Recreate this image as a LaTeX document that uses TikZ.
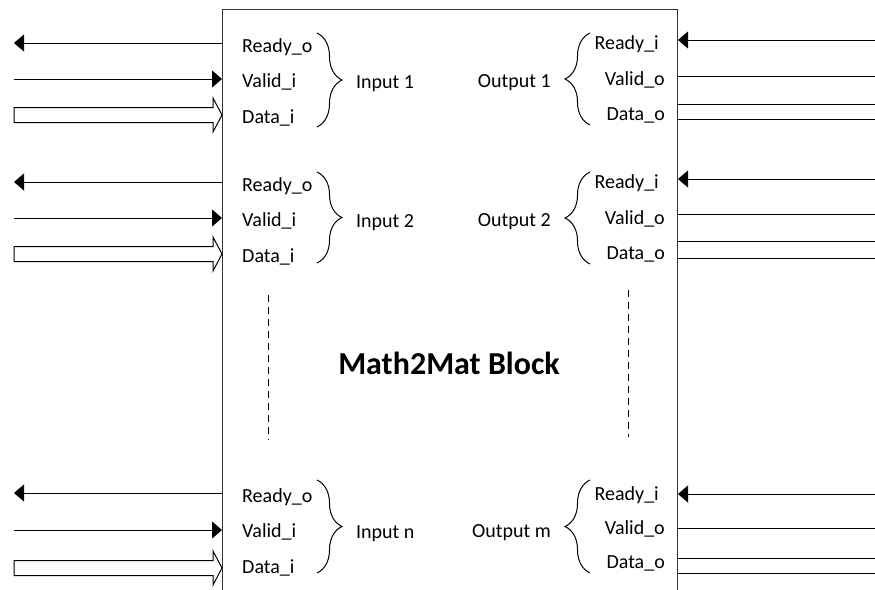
\documentclass[tikz,border=0pt]{standalone}
\usepackage{fontspec}
\setmainfont{Carlito}
\usetikzlibrary{arrows.meta,decorations.pathreplacing}

\begin{document}
\begin{tikzpicture}[
  x=1pt,y=-1pt,
  >={Triangle[length=10pt,width=17pt]},
  font=\fontsize{20}{24}\selectfont,
  blockbox/.style={draw=black!80, line width=1pt, minimum width=455pt, minimum height=620pt, anchor=north west, inner sep=0pt},
  blocktitle/.style={font=\fontsize{32}{38}\selectfont\bfseries, anchor=base},
  sigin/.style={anchor=base west, inner sep=0pt},
  sigout/.style={anchor=base east, inner sep=0pt},
  wire/.style={draw=black, line width=1pt},
  bus/.style={draw=black, line width=1pt, fill=white, line join=miter},
  grpbrace/.style={draw=black, line width=1pt, decorate, decoration={brace, amplitude=25pt}},
  gapline/.style={draw=black, line width=1pt, dash pattern=on 7pt off 5pt}
]
\useasboundingbox (0,0) rectangle (875,589);

% Block body, open at the bottom
\node[blockbox] (block) at (222,9) {};
\node[blocktitle] (name) at (449,374) {Math2Mat Block};

% ================= Input 1 / Output 1 =================
\begin{scope}
  \coordinate (rdyo1) at (14,43);
  \coordinate (vldi1) at (14,79);
  \coordinate (dati1) at (14,115);
  \coordinate (dati1e) at (block.west |- dati1);
  \node[sigin] (rdyo1l) at (242,52) {Ready\_o};
  \node[sigin] (vldi1l) at (242,87) {Valid\_i};
  \node[sigin] (dati1l) at (242,123) {Data\_i};
  \draw[grpbrace] (317,33) -- (317,127);
  \node[sigin] (in1) at (356,88) {Input 1};

  \draw[wire,->] (block.west |- rdyo1) -- (rdyo1);
  \draw[wire,->] (vldi1) -- (block.west |- vldi1);
  \draw[bus] ([yshift=7.5pt]dati1) -- ([xshift=-9pt,yshift=7.5pt]dati1e) -- ([xshift=-9pt,yshift=17pt]dati1e)
    -- (dati1e) -- ([xshift=-9pt,yshift=-17pt]dati1e) -- ([xshift=-9pt,yshift=-7.5pt]dati1e) -- ([yshift=-7.5pt]dati1) -- cycle;

  \coordinate (rdyi1) at (875,40);
  \coordinate (vldo1) at (875,76);
  \coordinate (dato1a) at (875,104);
  \coordinate (dato1b) at (875,119);
  \node[sigout] (rdyi1l) at (659,49) {Ready\_i};
  \node[sigout] (vldo1l) at (665,85) {Valid\_o};
  \node[sigout] (dato1l) at (665,120) {Data\_o};
  \draw[grpbrace] (590,125) -- (590,33);
  \node[sigout] (out1) at (551,87) {Output 1};

  \draw[wire,->] (rdyi1) -- (block.east |- rdyi1);
  \draw[wire] (block.east |- vldo1) -- (vldo1);
  \draw[wire] (block.east |- dato1a) -- (dato1a);
  \draw[wire] (block.east |- dato1b) -- (dato1b);
\end{scope}

% ================= Input 2 / Output 2 =================
\begin{scope}[shift={(0,139)}]
  \coordinate (rdyo2) at (14,43);
  \coordinate (vldi2) at (14,79);
  \coordinate (dati2) at (14,115);
  \coordinate (dati2e) at (block.west |- dati2);
  \node[sigin] (rdyo2l) at (242,52) {Ready\_o};
  \node[sigin] (vldi2l) at (242,87) {Valid\_i};
  \node[sigin] (dati2l) at (242,123) {Data\_i};
  \draw[grpbrace] (317,33) -- (317,124);
  \node[sigin] (in2) at (356,88) {Input 2};

  \draw[wire,->] (block.west |- rdyo2) -- (rdyo2);
  \draw[wire,->] (vldi2) -- (block.west |- vldi2);
  \draw[bus] ([yshift=7.5pt]dati2) -- ([xshift=-9pt,yshift=7.5pt]dati2e) -- ([xshift=-9pt,yshift=17pt]dati2e)
    -- (dati2e) -- ([xshift=-9pt,yshift=-17pt]dati2e) -- ([xshift=-9pt,yshift=-7.5pt]dati2e) -- ([yshift=-7.5pt]dati2) -- cycle;

  \coordinate (rdyi2) at (875,40);
  \coordinate (vldo2) at (875,75);
  \coordinate (dato2a) at (875,102);
  \coordinate (dato2b) at (875,119);
  \node[sigout] (rdyi2l) at (659,49) {Ready\_i};
  \node[sigout] (vldo2l) at (665,85) {Valid\_o};
  \node[sigout] (dato2l) at (665,120) {Data\_o};
  \draw[grpbrace] (590,125) -- (590,33);
  \node[sigout] (out2) at (551,87) {Output 2};

  \draw[wire,->] (rdyi2) -- (block.east |- rdyi2);
  \draw[wire] (block.east |- vldo2) -- (vldo2);
  \draw[wire] (block.east |- dato2a) -- (dato2a);
  \draw[wire] (block.east |- dato2b) -- (dato2b);
\end{scope}

% ports left out between
\draw[gapline] (268,295) -- (268,440);
\draw[gapline] (628,290) -- (628,437);

% ================= Input n / Output m =================
\begin{scope}[shift={(0,450)}]
  \coordinate (rdyon) at (14,43);
  \coordinate (vldin) at (14,80);
  \coordinate (datin) at (14,118);
  \coordinate (datine) at (block.west |- datin);
  \node[sigin] (rdyonl) at (242,52) {Ready\_o};
  \node[sigin] (vldinl) at (242,87) {Valid\_i};
  \node[sigin] (datinl) at (242,123) {Data\_i};
  \draw[grpbrace] (317,30) -- (317,123);
  \node[sigin] (inn) at (356,88) {Input n};

  \draw[wire,->] (block.west |- rdyon) -- (rdyon);
  \draw[wire,->] (vldin) -- (block.west |- vldin);
  \draw[bus] ([yshift=7.5pt]datin) -- ([xshift=-9pt,yshift=7.5pt]datine) -- ([xshift=-9pt,yshift=17pt]datine)
    -- (datine) -- ([xshift=-9pt,yshift=-17pt]datine) -- ([xshift=-9pt,yshift=-7.5pt]datine) -- ([yshift=-7.5pt]datin) -- cycle;

  \coordinate (rdyim) at (875,44);
  \coordinate (vldom) at (875,78);
  \coordinate (datoma) at (875,108);
  \coordinate (datomb) at (875,123);
  \node[sigout] (rdyiml) at (659,50) {Ready\_i};
  \node[sigout] (vldoml) at (665,84) {Valid\_o};
  \node[sigout] (datoml) at (665,118) {Data\_o};
  \draw[grpbrace] (590,123) -- (590,30);
  \node[sigout] (outm) at (551,87) {Output m};

  \draw[wire,->] (rdyim) -- (block.east |- rdyim);
  \draw[wire] (block.east |- vldom) -- (vldom);
  \draw[wire] (block.east |- datoma) -- (datoma);
  \draw[wire] (block.east |- datomb) -- (datomb);
\end{scope}

\end{tikzpicture}
\end{document}
